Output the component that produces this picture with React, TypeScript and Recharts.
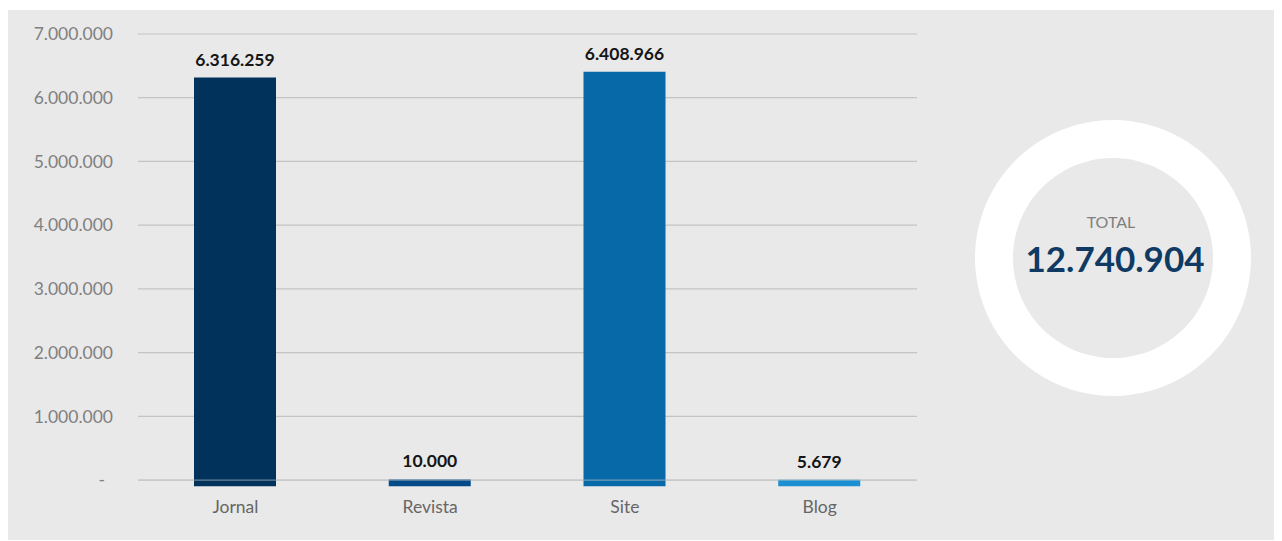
import React from "react";
import { BarChart, Bar, Cell, CartesianGrid, XAxis, YAxis, LabelList, ReferenceLine, PieChart, Pie } from "recharts";

const categories = ["Jornal", "Revista", "Site", "Blog"];
const values = [6316259, 10000, 6408966, 5679];
const barColors = ["#00325c", "#034b88", "#0869a8", "#1a8fd2"];
const yTicks = [0, 1000000, 2000000, 3000000, 4000000, 5000000, 6000000, 7000000];

// bars in the source start a little below the zero line
const Y_FLOOR = -100000;
const FONT = "Lato, 'Noto Sans', sans-serif";

const fmt = (n: number) => String(n).replace(/\B(?=(\d{3})+(?!\d))/g, ".");

const data = categories.map((name, i) => ({ name, value: values[i], range: [Y_FLOOR, values[i]] }));
const total = values.reduce((a, b) => a + b, 0);

const YTick = (props: any) => {
  const { x, y, payload } = props;
  const zero = payload.value === 0;
  return (
    <text x={zero ? x - 8 : x} y={y} dy="0.355em" textAnchor="end" fill="#808080" fontSize={17.5} fontFamily={FONT}>
      {zero ? "-" : fmt(payload.value)}
    </text>
  );
};

export default function App() {
  return (
    <div style={{ position: "relative", width: 1266, height: 530, marginTop: 2, background: "#e9e9e9", fontFamily: FONT }}>
      <div style={{ position: "absolute", left: 0, top: 0 }}>
        <BarChart width={930} height={530} data={data} margin={{ top: 24, right: 21, left: 0, bottom: 23.6 }}>
          <CartesianGrid horizontal vertical={false} stroke="#c4c4c4" strokeWidth={1.2} horizontalValues={yTicks} />
          <XAxis
            dataKey="name"
            axisLine={false}
            tickLine={false}
            tickSize={0}
            tickMargin={14}
            height={30}
            tick={{ fill: "#666", fontSize: 17.5, fontFamily: FONT }}
          />
          <YAxis
            type="number"
            domain={[Y_FLOOR, 7000000]}
            ticks={yTicks}
            axisLine={false}
            tickLine={false}
            tickSize={0}
            tickMargin={25}
            width={130}
            tick={<YTick />}
            allowDataOverflow
          />
          <Bar dataKey="range" barSize={82} isAnimationActive={false}>
            {data.map((d, i) => (
              <Cell key={d.name} fill={barColors[i]} />
            ))}
            <LabelList
              dataKey="value"
              position="top"
              offset={12}
              formatter={(v: any) => fmt(Number(v))}
              style={{ fill: "#151515", fontSize: 17.5, fontWeight: 700, fontFamily: FONT }}
            />
          </Bar>
          <ReferenceLine y={0} stroke="#c4c4c4" strokeOpacity={0.55} strokeWidth={1.2} />
        </BarChart>
      </div>
      <div style={{ position: "absolute", left: 954.5, top: 98 }}>
        <PieChart width={300} height={300} margin={{ top: 0, right: 0, bottom: 0, left: 0 }}>
          <Pie
            data={[{ name: "Total", value: total }]}
            dataKey="value"
            cx={150}
            cy={150}
            innerRadius={100}
            outerRadius={138}
            startAngle={90}
            endAngle={-270}
            fill="#ffffff"
            stroke="none"
            isAnimationActive={false}
          />
        </PieChart>
        <svg width={300} height={300} style={{ position: "absolute", left: 0, top: 0 }}>
          <text x={148} y={120} textAnchor="middle" fill="#7f7f7f" fontSize={16} fontFamily={FONT}>
            TOTAL
          </text>
          <text x={152} y={164} textAnchor="middle" fill="#0e3a63" fontSize={35} fontWeight={700} fontFamily={FONT}>
            {fmt(total)}
          </text>
        </svg>
      </div>
    </div>
  );
}
